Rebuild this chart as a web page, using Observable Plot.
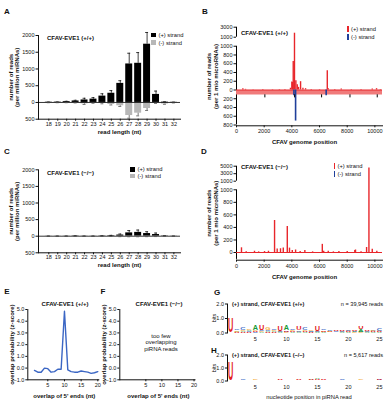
<!DOCTYPE html>
<html>
<head>
<meta charset="utf-8">
<script src="https://cdn.jsdelivr.net/npm/d3@7"></script>
<script src="https://cdn.jsdelivr.net/npm/@observablehq/plot@0.6"></script>
<style>
  html, body { margin: 0; padding: 0; background: #fff; }
  #fig { position: relative; width: 384px; height: 400px; overflow: hidden; background: #fff;
         font-family: 'Liberation Sans', Arial, Helvetica, sans-serif; color: #111; }
  #fig svg { position: absolute; left: 0; top: 0; background: transparent !important; overflow: visible;
             font-family: 'Liberation Sans', Arial, Helvetica, sans-serif; font-size: 5.5px; }
  #fig .lbl { position: absolute; white-space: pre; line-height: 1.15; }
</style>
</head>
<body>
<div id="fig"></div>
<script>
// ---------- read-length distribution (reads per million miRNAs) ----------
const readLengths = [18, 19, 20, 21, 22, 23, 24, 25, 26, 27, 28, 29, 30, 31, 32];
const lengthTicks = [-500, 0, 500, 1000, 1500, 2000];

// CFAV-EVE1 (+/+)
const plusWT     = [8, 10, 25, 45, 75, 100, 190, 275, 570, 1150, 1170, 1740, 240, 10, 5];
const plusWTErr  = [5, 5, 10, 20, 50, 45, 70, 80, 80, 320, 320, 350, 100, 10, 5];
const minusWT    = [5, 5, 5, 10, 40, 15, 30, 60, 100, 390, 320, 180, 20, 45, 10];
const minusWTErr = [3, 3, 3, 5, 20, 10, 10, 15, 20, 80, 80, 60, 10, 10, 5];

// CFAV-EVE1 (-/-)
const plusKO     = [2, 2, 3, 8, 3, 3, 8, 15, 35, 100, 115, 80, 50, 8, 3];
const plusKOErr  = [2, 2, 2, 4, 2, 2, 5, 10, 30, 70, 70, 55, 45, 5, 2];
const minusKO    = [3, 3, 3, 3, 3, 3, 3, 5, 10, 12, 12, 10, 8, 3, 3];
const minusKOErr = [1, 1, 1, 1, 1, 1, 1, 2, 4, 5, 5, 4, 3, 1, 1];

// ---------- coverage along the CFAV genome (reads per 1 mio microRNAs) ----------
const genomeTicks = [0, 2000, 4000, 6000, 8000, 10000];

// (+/+): y axis broken at 1000, compressed above
const lowTicksWT = [-800, -600, -400, -200, 0, 200, 400, 600, 800, 1000];
const highTicksWT = [1000, 3000];
const plusPosWT = [460, 650, 1200, 1900, 2600, 3100, 3500, 3900, 4000, 4050, 4100, 4190, 4290, 4390, 4480, 4630, 4800, 4990, 5400, 6000, 6560, 6630, 7100, 7570, 8300, 9000, 9810, 10120, 10400];
const plusValWT = [30, 15, 8, 10, 8, 10, 12, 40, 180, 170, 650, 1800, 210, 120, 60, 190, 40, 30, 12, 10, 440, 30, 10, 25, 10, 10, 20, 30, 10];
const minusPosWT = [4150, 4270, 6480];
const minusValWT = [-130, -710, -130];
const markPosWT = [2050, 4200, 6150, 8200, 10170];

// (-/-)
const lowTicksKO = [0, 200, 400, 600, 800, 1000];
const highTicksKO = [1000, 3000, 5000];
const plusPosKO = [360, 700, 1300, 1600, 2025, 2310, 2750, 2940, 3180, 3380, 3670, 3830, 4030, 4270, 4600, 4940, 5500, 6200, 6300, 6630, 7000, 7400, 8000, 8550, 8600, 9000, 9400, 9570, 9810, 10140];
const plusValKO = [75, 10, 20, 10, 15, 20, 510, 55, 60, 70, 415, 70, 30, 40, 15, 30, 10, 130, 20, 20, 10, 15, 15, 30, 40, 10, 80, 4500, 50, 20];

// ---------- ping-pong signature: overlap of 5' ends ----------
const overlapNt = [1, 2, 3, 4, 5, 6, 7, 8, 9, 10, 11, 12, 13, 14, 15, 16, 17, 18, 19, 20];
const zScoreWT = [-0.2, -0.35, -0.35, 0.0, -0.05, -0.35, -0.3, -0.1, -0.1, 4.85, -0.15, -0.3, -0.35, -0.35, -0.25, -0.3, -0.35, -0.45, -0.4, -0.3];
const zTicks = [-1, 0, 1, 2, 3, 4, 5];
const overlapTicks = [5, 10, 15, 20];

// ---------- nucleotide bias of (+) strand piRNAs (bits) ----------
const logoPositions = [1, 2, 3, 4, 5, 6, 7, 8, 9, 10, 11, 12, 13, 14, 15, 16, 17, 18, 19, 20, 21, 22, 23, 24, 25];
const logoTicksX = [5, 10, 15, 20, 25];
const logoTicksY = [0, 1, 2];
const wtU = [1.00, 0.05, 0.06, 0.05, 0.08, 0.35, 0.06, 0.06, 0.38, 0.08, 0.06, 0.25, 0.06, 0.05, 0.38, 0.08, 0.06, 0.08, 0.06, 0.06, 0.08, 0.20, 0.08, 0.06, 0.06];
const wtA = [0.03, 0.05, 0.06, 0.07, 0.40, 0.06, 0.06, 0.06, 0.05, 0.38, 0.05, 0.05, 0.05, 0.05, 0.05, 0.05, 0.04, 0.04, 0.05, 0.05, 0.06, 0.15, 0.05, 0.05, 0.05];
const wtG = [0.03, 0.08, 0.06, 0.12, 0.10, 0.06, 0.15, 0.08, 0.05, 0.05, 0.08, 0.05, 0.12, 0.10, 0.05, 0.05, 0.06, 0.04, 0.05, 0.06, 0.05, 0.05, 0.05, 0.08, 0.06];
const wtC = [0.03, 0.10, 0.18, 0.06, 0.06, 0.06, 0.10, 0.08, 0.05, 0.05, 0.08, 0.08, 0.15, 0.06, 0.05, 0.08, 0.06, 0.06, 0.05, 0.08, 0.05, 0.05, 0.06, 0.06, 0.18];
const koU = [1.45, 0.02, 0.03, 0.03, 0.03, 0.04, 0.03, 0.03, 0.08, 0.03, 0.03, 0.05, 0.03, 0.06, 0.06, 0.05, 0.03, 0.03, 0.03, 0.03, 0.03, 0.03, 0.03, 0.03, 0.06];
const koA = [0.02, 0.02, 0.03, 0.03, 0.03, 0.03, 0.03, 0.03, 0.03, 0.03, 0.02, 0.03, 0.03, 0.05, 0.08, 0.03, 0.02, 0.02, 0.02, 0.03, 0.02, 0.03, 0.02, 0.02, 0.03];
const koG = [0.02, 0.02, 0.03, 0.03, 0.05, 0.03, 0.03, 0.03, 0.03, 0.03, 0.02, 0.02, 0.03, 0.03, 0.04, 0.03, 0.02, 0.02, 0.02, 0.03, 0.02, 0.05, 0.02, 0.02, 0.03];
const koC = [0.02, 0.03, 0.08, 0.03, 0.03, 0.03, 0.03, 0.03, 0.03, 0.03, 0.02, 0.03, 0.03, 0.03, 0.03, 0.03, 0.02, 0.02, 0.05, 0.03, 0.02, 0.03, 0.02, 0.03, 0.05];

// ---------- styling ----------
const RED = "#e8262b", BLUE = "#1f3f9a", GREY = "#b7b7b7", LINE_BLUE = "#3b66c4";
const letterColor = {U: "#e3201b", A: "#1a9a3a", G: "#f2a51f", C: "#2f63c4"};
const fig = document.getElementById("fig");

function addPlot(svg) { fig.appendChild(svg); return svg; }

function label(text, x, y, {size = 6, weight = "normal", anchor = "start", rotate = 0, align = "center"} = {}) {
  const el = document.createElement("div");
  el.className = "lbl";
  el.textContent = text;
  const tx = anchor === "start" ? "0" : anchor === "end" ? "-100%" : "-50%";
  el.style.left = x + "px";
  el.style.top = y + "px";
  el.style.fontSize = size + "px";
  el.style.fontWeight = weight;
  el.style.textAlign = align;
  el.style.transform = `translate(${tx},-50%)` + (rotate ? ` rotate(${rotate}deg)` : "");
  fig.appendChild(el);
}

function swatch(x, y, w, h, color) {
  const el = document.createElement("div");
  Object.assign(el.style, {position: "absolute", left: (x - w / 2) + "px", top: (y - h / 2) + "px",
    width: w + "px", height: h + "px", background: color});
  fig.appendChild(el);
}

// ---------- panels A and C: reads by length ----------
function lengthPanel(plus, plusErr, minus, minusErr, top, bottom) {
  const rows = readLengths.map((len, i) => ({
    len, plus: plus[i], plusTop: plus[i] + plusErr[i], minus: -minus[i], minusBottom: -minus[i] - minusErr[i]
  }));
  return Plot.plot({
    width: 384, height: 400,
    marginLeft: 38, marginRight: 204, marginTop: top, marginBottom: 400 - bottom,
    x: {type: "band", domain: readLengths, range: [41.7, 180], paddingInner: 0.22, paddingOuter: 0.35, round: false,
        line: true, tickSize: 2, tickPadding: 0.5, label: null},
    y: {domain: [-500, 2000], ticks: lengthTicks, tickFormat: d => String(Math.abs(d)), line: true,
        tickSize: 2.5, tickPadding: 1.5, label: null},
    marks: [
      Plot.barY(rows, {x: "len", y: "plus", fill: "#000"}),
      Plot.barY(rows, {x: "len", y: "minus", fill: GREY}),
      Plot.ruleY([0], {stroke: "#000", strokeWidth: 0.8}),
      Plot.ruleX(rows, {x: "len", y1: "plus", y2: "plusTop", stroke: "#111", strokeWidth: 0.8}),
      Plot.tickY(rows, {x: "len", y: "plusTop", stroke: "#111", strokeWidth: 0.8, insetLeft: 2, insetRight: 2}),
      Plot.ruleX(rows, {x: "len", y1: "minus", y2: "minusBottom", stroke: "#555", strokeWidth: 0.8}),
      Plot.tickY(rows, {x: "len", y: "minusBottom", stroke: "#555", strokeWidth: 0.8, insetLeft: 2, insetRight: 2}),
      Plot.text(["number of reads\n(per million miRNAs)"], {text: d => d, frameAnchor: "left", rotate: -90, dx: -24.5,
        textAnchor: "middle", lineAnchor: "middle", fontSize: 6, fontWeight: "bold", lineHeight: 1.1}),
      Plot.text(["read length (nt)"], {text: d => d, frameAnchor: "bottom", dx: 10, dy: 12.5,
        textAnchor: "middle", lineAnchor: "middle", fontSize: 6, fontWeight: "bold"})
    ]
  });
}

addPlot(lengthPanel(plusWT, plusWTErr, minusWT, minusWTErr, 35, 118.7));
addPlot(lengthPanel(plusKO, plusKOErr, minusKO, minusKOErr, 169.3, 252.3));

// ---------- panels B and D: coverage along the genome ----------
// The y axis is broken at `cut`: values above it continue after a gap, compressed by `k`.
function coveragePanel({floor, lowTicks, highTicks, cut, gap, k, bottomPx, topPx,
                        plusPos, plusVal, minusPos, minusVal, markPos, thickBase}) {
  const toAxis = v => v <= cut ? v : cut + gap + (v - cut) * k;
  const fromAxis = u => u <= cut ? Math.abs(u) : Math.round(cut + (u - cut - gap) / k);
  const hi = highTicks[highTicks.length - 1];
  const plusRows = plusPos.map((pos, i) => ({pos, val: plusVal[i]}));
  const minusRows = minusPos.map((pos, i) => ({pos, val: minusVal[i]}));
  const segments = [{y1: floor, y2: cut}, {y1: cut + gap, y2: toAxis(hi)}];
  const marks = [Plot.ruleX(segments, {x: 0, y1: "y1", y2: "y2", stroke: "#000", strokeWidth: 1})];
  if (thickBase) marks.push(Plot.ruleY([0], {stroke: "#f07b7b", strokeWidth: 4.5, dy: 2.3}));
  marks.push(
    Plot.ruleY([0], {stroke: RED, strokeWidth: 1.1}),
    Plot.ruleX(plusRows, {x: "pos", y1: 0, y2: d => toAxis(d.val), stroke: RED, strokeWidth: 1.4}),
    Plot.ruleX(minusRows, {x: "pos", y1: 0, y2: d => toAxis(d.val), stroke: BLUE, strokeWidth: 1.6})
  );
  if (markPos) marks.push(Plot.ruleX(markPos, {x: d => d, y1: -110, y2: -180, stroke: "#000", strokeWidth: 1}));
  marks.push(
    Plot.text(["number of reads\n(per 1 mio microRNAs)"], {text: d => d, frameAnchor: "left", rotate: -90, dx: -24,
      textAnchor: "middle", lineAnchor: "middle", fontSize: 6, fontWeight: "bold", lineHeight: 1.1}),
    Plot.text(["CFAV genome position"], {text: d => d, frameAnchor: "bottom", dx: -5, dy: 16.5,
      textAnchor: "middle", lineAnchor: "middle", fontSize: 6, fontWeight: "bold"})
  );
  // the first upper tick repeats the break value at the start of the upper segment
  const ticks = [...lowTicks, ...highTicks.map((v, i) => i === 0 ? cut + gap : toAxis(v))];
  return Plot.plot({
    width: 384, height: 400,
    marginLeft: 236, marginRight: 2, marginTop: topPx, marginBottom: 400 - bottomPx - 0.8,
    x: {domain: [0, 10550], range: [236, 382], ticks: genomeTicks, tickFormat: d => String(d),
        line: true, tickSize: 2, tickPadding: 1.5, label: null},
    y: {domain: [floor, toAxis(hi)], range: [bottomPx, topPx], ticks, tickFormat: d => String(fromAxis(d)),
        line: false, tickSize: 2.5, tickPadding: 1.5, label: null},
    marks
  });
}

addPlot(coveragePanel({
  floor: -800, lowTicks: lowTicksWT, highTicks: highTicksWT, cut: 1000, gap: 206, k: 0.1144, bottomPx: 124.5, topPx: 26.7,
  plusPos: plusPosWT, plusVal: plusValWT, minusPos: minusPosWT, minusVal: minusValWT, markPos: markPosWT, thickBase: true
}));
addPlot(coveragePanel({
  floor: -110, lowTicks: lowTicksKO, highTicks: highTicksKO, cut: 1000, gap: 137, k: 0.0598, bottomPx: 258.9, topPx: 165.7,
  plusPos: plusPosKO, plusVal: plusValKO, minusPos: [], minusVal: [], markPos: null, thickBase: false
}));

// ---------- panels E and F: ping-pong overlap z-scores ----------
function overlapPanel(left, right, xStart, values) {
  const marks = [
    Plot.text(["overlap probability (z-score)"], {text: d => d, frameAnchor: "left", rotate: -90, dx: -15.5,
      textAnchor: "middle", lineAnchor: "middle", fontSize: 6, fontWeight: "bold"}),
    Plot.text(["overlap of 5' ends (nt)"], {text: d => d, frameAnchor: "bottom", dy: 16, dx: 1,
      textAnchor: "middle", lineAnchor: "middle", fontSize: 6, fontWeight: "bold"})
  ];
  if (values) marks.push(Plot.lineY(values, {x: (d, i) => overlapNt[i], y: d => d, stroke: LINE_BLUE, strokeWidth: 1.4}));
  return Plot.plot({
    width: 384, height: 400,
    marginLeft: left, marginRight: 384 - right, marginTop: 309, marginBottom: 400 - 379.3,
    x: {domain: [xStart, 20.3], ticks: overlapTicks, line: true, tickSize: 2, tickPadding: 1, label: null},
    y: {domain: [-1, 5], ticks: zTicks, line: true, tickSize: 2, tickPadding: 1.5, label: null},
    marks
  });
}
addPlot(overlapPanel(27.3, 98.3, -1, zScoreWT));
addPlot(overlapPanel(119.3, 194.5, -3.1, null));

// ---------- panels G and H: sequence logos ----------
function stackLogo(columns, pxPerBit) {
  const rows = [];
  logoPositions.forEach((pos, i) => {
    const letters = Object.keys(columns).map(l => ({letter: l, h: columns[l][i]})).sort((a, b) => a.h - b.h);
    let base = 0;
    for (const {letter, h} of letters) {
      if (h * pxPerBit >= 0.6) rows.push({pos, letter, y1: base, h});
      base += h;
    }
  });
  return rows;
}

function logoPanel(columns, top, bottom) {
  const pxPerBit = (bottom - top) / 2;
  const rows = stackLogo(columns, pxPerBit);
  const svg = Plot.plot({
    width: 384, height: 400,
    marginLeft: 227, marginRight: 2, marginTop: top, marginBottom: 400 - bottom,
    color: {type: "identity"},
    x: {domain: [0.5, 25.5], ticks: logoTicksX, tickSize: 0, tickPadding: 4, label: null},
    y: {domain: [0, 2], ticks: logoTicksY, line: true, tickSize: 2, tickPadding: 1.5, label: null},
    marks: [
      Plot.text(rows, {x: "pos", y: "y1", text: "letter", fill: d => letterColor[d.letter],
        fontSize: d => d.h * pxPerBit / 0.716, lineAnchor: "bottom", textAnchor: "middle", fontWeight: "bold"})
    ]
  });
  // each glyph is stretched to the width of its column
  svg.querySelectorAll('g[aria-label="text"] text').forEach(t => {
    t.setAttribute("textLength", 5.3);
    t.setAttribute("lengthAdjust", "spacingAndGlyphs");
  });
  return svg;
}
addPlot(logoPanel({U: wtU, A: wtA, G: wtG, C: wtC}, 303.5, 332.5));
addPlot(logoPanel({U: koU, A: koA, G: koG, C: koC}, 354.5, 380.5));

// ---------- panel letters, titles, legends ----------
const panelLetters = [["A", 7, 12], ["B", 205, 12], ["C", 7, 152], ["D", 204, 152], ["E", 7, 292], ["F", 103, 292], ["G", 217, 293], ["H", 214, 351]];
for (const [t, x, y] of panelLetters) label(t, x, y, {size: 8, weight: "bold", anchor: "middle"});

label("CFAV-EVE1 (+/+)", 47, 38, {weight: "bold"});
label("CFAV-EVE1 (\u2212/\u2212)", 47, 173, {weight: "bold"});
label("CFAV-EVE1 (+/+)", 241, 33, {weight: "bold"});
label("CFAV-EVE1 (\u2212/\u2212)", 241, 166.5, {weight: "bold"});
label("CFAV-EVE1 (+/+)", 65, 304, {weight: "bold", anchor: "middle"});
label("CFAV-EVE1 (\u2212/\u2212)", 159, 304, {weight: "bold", anchor: "middle"});
label("too few\noverlapping\npiRNA reads", 161, 342.5, {anchor: "middle", size: 6});
label("(+) strand, CFAV-EVE1 (+/+)", 232, 303.5, {weight: "bold", size: 5.6});
label("(+) strand, CFAV-EVE1 (\u2212/\u2212)", 232, 355, {weight: "bold", size: 5.6});
label("n = 39,945 reads", 383, 303.5, {anchor: "end", size: 5.6});
label("n = 5,617 reads", 383, 355, {anchor: "end", size: 5.6});
label("bits", 214, 318, {anchor: "middle", rotate: -90, size: 5.6});
label("bits", 214, 367.5, {anchor: "middle", rotate: -90, size: 5.6});
label("nucleotide position in piRNA read", 309, 397, {anchor: "middle", size: 5.8});

// legends
swatch(153.3, 35, 4.5, 4.5, "#000"); label("(+) strand", 158.5, 35, {size: 5.8});
swatch(153.3, 42.7, 4.5, 4.5, GREY); label("(-) strand", 158.5, 42.7, {size: 5.8});
swatch(132.3, 169.3, 4.5, 4.5, "#000"); label("(+) strand", 137.5, 169.3, {size: 5.8});
swatch(132.3, 176.2, 4.5, 4.5, GREY); label("(-) strand", 137.5, 176.2, {size: 5.8});
swatch(348, 28.5, 1.6, 6, RED); label("(+) strand", 351, 28.5, {size: 5.8});
swatch(348, 37.3, 1.6, 6, BLUE); label("(-) strand", 351, 37.3, {size: 5.8});
swatch(334.5, 166, 1.6, 6, RED); label("(+) strand", 337.5, 166, {size: 5.8});
swatch(334.5, 174, 1.6, 6, BLUE); label("(-) strand", 337.5, 174, {size: 5.8});
</script>
</body>
</html>
